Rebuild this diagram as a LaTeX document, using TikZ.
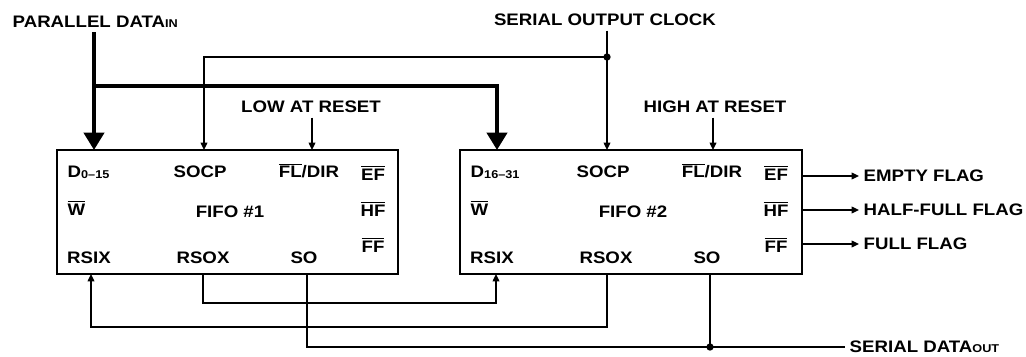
\documentclass[tikz,border=0pt]{standalone}
\usepackage{fontspec}
\setmainfont{Liberation Sans}[FakeStretch=1.12]
\usetikzlibrary{arrows.meta,positioning}
\newcommand{\ovl}[1]{$\overline{\mbox{#1}}$}
\newcommand{\lowsub}[1]{\raisebox{-0.8pt}{\fontsize{8.5}{9}\selectfont #1}}
\newcommand{\smallsub}[1]{{\fontsize{8.5}{9}\selectfont #1}}

\begin{document}
\begin{tikzpicture}[x=0.75pt,y=-0.75pt,font=\fontsize{12.5}{15}\selectfont\bfseries,
    fifobox/.style={draw,line width=1.8pt,minimum height=93pt,inner sep=0pt},
    wire/.style={line width=1pt},
    pin/.style={wire,-{Triangle[length=5.5pt,width=5pt]}},
    bus/.style={line width=3pt,-{Triangle[length=13pt,width=15pt]}},
    dot/.style={circle,fill,inner sep=0pt,minimum size=5.5pt}]
    \fill[white] (0,0) rectangle (1026,357);
    \useasboundingbox (0,0) rectangle (1026,357);

    % FIFO #1
    \node[fifobox,minimum width=255.75pt] (fifoA) at (227.5,212) {};
    \node[anchor=west] (dA) at (63,172) {D\lowsub{0--15}};
    \node (socpA) at (200,172) {SOCP};
    \node (fldirA) at (309,171) {\ovl{FL}/DIR};
    \node (efA) at (373,173) {\ovl{EF}};
    \node[anchor=west] (wA) at (63,208) {\ovl{W}};
    \node (nameA) at (230,212) {FIFO \#1};
    \node (hfA) at (373,209) {\ovl{HF}};
    \node (ffA) at (373,245) {\ovl{FF}};
    \node (rsixA) at (89,258) {RSIX};
    \node (rsoxA) at (203,258) {RSOX};
    \node (soA) at (304,258) {SO};

    % FIFO #2
    \node[fifobox,minimum width=256.5pt] (fifoB) at (631,212) {};
    \node[anchor=west] (dB) at (466,172) {D\lowsub{16--31}};
    \node (socpB) at (603,172) {SOCP};
    \node (fldirB) at (712,171) {\ovl{FL}/DIR};
    \node (efB) at (776,173) {\ovl{EF}};
    \node[anchor=west] (wB) at (466,208) {\ovl{W}};
    \node (nameB) at (633,212) {FIFO \#2};
    \node (hfB) at (776,209) {\ovl{HF}};
    \node (ffB) at (776,245) {\ovl{FF}};
    \node (rsixB) at (492,258) {RSIX};
    \node (rsoxB) at (606,258) {RSOX};
    \node (soB) at (707,258) {SO};

    % pins on the box edges
    \coordinate (dinA) at (94,150);
    \coordinate (socpinA) at (204,150);
    \coordinate (fldirinA) at (312,150);
    \coordinate (rsixinA) at (91,274);
    \coordinate (rsoxoutA) at (203,274);
    \coordinate (sooutA) at (307,274);
    \coordinate (dinB) at (497,150);
    \coordinate (socpinB) at (607,150);
    \coordinate (fldirinB) at (713,150);
    \coordinate (rsixinB) at (496,274);
    \coordinate (rsoxoutB) at (607,274);
    \coordinate (sooutB) at (710,274);

    % outside labels
    \node[anchor=west] (pdin) at (8,22) {PARALLEL DATA\smallsub{IN}};
    \node (soclk) at (605,20) {SERIAL OUTPUT CLOCK};
    \node (lowrst) at (311,107) {LOW AT RESET};
    \node (highrst) at (715,107) {HIGH AT RESET};
    \node[anchor=west] (emptyflag) at (859,176) {EMPTY FLAG};
    \node[anchor=west] (halfflag) at (859,210) {HALF-FULL FLAG};
    \node[anchor=west] (fullflag) at (859,244) {FULL FLAG};
    \node[anchor=west,inner ysep=0.5pt] (sdout) at (845,347) {SERIAL DATA\smallsub{OUT}};

    % parallel data bus
    \draw[bus] (pdin.south -| dinA) -- (dinA);
    \coordinate (busjoint) at (94,86);
    \draw[bus] (busjoint) -| (dinB);

    % serial output clock
    \draw[pin] (soclk.south -| socpinB) -- (socpinB);
    \node[dot] (clkdot) at (607,57) {};
    \draw[pin] (clkdot.center) -| (socpinA);

    % reset levels
    \draw[pin] (lowrst.south -| fldirinA) -- (fldirinA);
    \draw[pin] (highrst.south -| fldirinB) -- (fldirinB);

    % flags
    \draw[pin] (fifoB.east |- emptyflag.west) -- (emptyflag.west);
    \draw[pin] (fifoB.east |- halfflag.west) -- (halfflag.west);
    \draw[pin] (fifoB.east |- fullflag.west) -- (fullflag.west);

    % RSOX -> RSIX chain and serial out
    \draw[pin] (rsoxoutA) -- (rsoxoutA |- 0,303) -| (rsixinB);
    \draw[pin] (rsoxoutB) -- (rsoxoutB |- 0,327) -| (rsixinA);
    \draw[wire] (sooutA) |- (sdout.west);
    \node[dot] (sodot) at (sooutB |- sdout.west) {};
    \draw[wire] (sooutB) -- (sodot.center);
\end{tikzpicture}
\end{document}
